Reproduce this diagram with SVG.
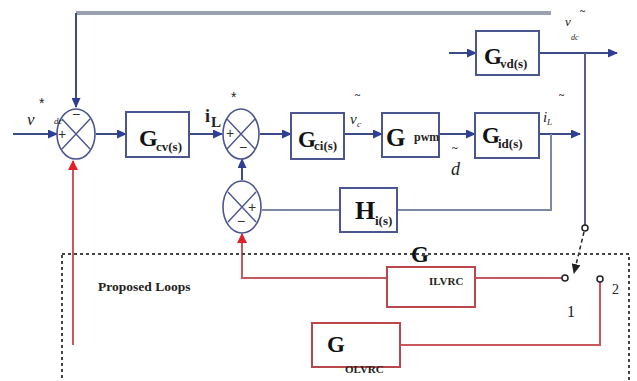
<svg xmlns="http://www.w3.org/2000/svg" width="637" height="381" viewBox="0 0 637 381">
<style>
.bl{stroke:#3d4a88;stroke-width:2;fill:none}
.fb{stroke:#8088a8;stroke-width:2;fill:none}
.rd{stroke:#c9575b;stroke-width:2;fill:none}
.box{fill:#fff;stroke:#4b5590;stroke-width:2}
.rbox{fill:#fff;stroke:#b9474b;stroke-width:2}
.sum{fill:#fff;stroke:#4b5590;stroke-width:1.6}
.x{stroke:#4b5590;stroke-width:1.4}
.G{font-family:"Liberation Serif",serif;font-weight:bold;fill:#111}
.s{font-family:"Liberation Serif",serif;font-weight:bold;fill:#222}
.it{font-family:"Liberation Serif",serif;font-style:italic;fill:#222}
.sg{font-family:"Liberation Sans",sans-serif;fill:#333;font-size:14px}
.st{font-family:"Liberation Sans",sans-serif;fill:#222;font-size:14px}
</style>
<defs>
<marker id="ab" markerWidth="10" markerHeight="9" refX="9" refY="4.5" orient="auto" markerUnits="userSpaceOnUse"><path d="M0,0 L10,4.5 L0,9 Z" fill="#2f3f96"/></marker>
<marker id="ar" markerWidth="10" markerHeight="10" refX="9" refY="5" orient="auto" markerUnits="userSpaceOnUse"><path d="M0,0 L10,5 L0,10 Z" fill="#e0202a"/></marker>
<marker id="ak" markerWidth="10" markerHeight="9" refX="9" refY="4.5" orient="auto" markerUnits="userSpaceOnUse"><path d="M0,0 L10,4.5 L0,9 Z" fill="#222"/></marker>
</defs>

<g id="connectors">
<path d="M76,13 L551,13" stroke="#9aa0ac" stroke-width="4" fill="none"/>
<path class="bl" d="M76,13 L76,107" marker-end="url(#ab)"/>
<path class="bl" d="M13,134 L57,134" marker-end="url(#ab)"/>
<path class="bl" d="M96,134 L126,134" marker-end="url(#ab)"/>
<path class="bl" d="M189,134 L222,134" marker-end="url(#ab)"/>
<path class="bl" d="M260,134 L291,134" marker-end="url(#ab)"/>
<path class="bl" d="M344,134 L382,134" marker-end="url(#ab)"/>
<path class="bl" d="M439,134 L475,134" marker-end="url(#ab)"/>
<path class="bl" d="M539,134 L580,134" marker-end="url(#ab)"/>
<path class="fb" d="M551,134 L551,210 L397,210"/>
<path class="fb" d="M340,210 L262,210"/>
<path class="bl" d="M242,180 L242,159" marker-end="url(#ab)"/>
<path class="bl" d="M449,53 L476,53" marker-end="url(#ab)"/>
<path class="bl" d="M539,53 L617,53" marker-end="url(#ab)"/>
<path d="M585,53 L585,225" stroke="#5a5f8a" stroke-width="2" fill="none"/>
<path d="M584,232 L574,273" stroke="#222" stroke-width="1.5" stroke-dasharray="4 3" fill="none" marker-end="url(#ak)"/>
<path class="rd" d="M73,345 L73,161" marker-end="url(#ar)"/>
<path class="rd" d="M387,278 L242,278 L242,234" marker-end="url(#ar)"/>
<path class="rd" d="M475,278 L562,278"/>
<path class="rd" d="M600,282 L600,345 L400,345"/>
<circle cx="585" cy="228" r="3" fill="#fff" stroke="#222" stroke-width="1.5"/>
<circle cx="565" cy="278" r="3" fill="#fff" stroke="#222" stroke-width="1.5"/>
<circle cx="600" cy="279" r="3" fill="#fff" stroke="#222" stroke-width="1.5"/>
</g>

<g id="proposed">
<rect x="62" y="254" width="567" height="140" fill="none" stroke="#444" stroke-width="2" stroke-dasharray="3 3"/>
<text x="98" y="291" class="s" font-size="13.5">Proposed Loops</text>
</g>

<g id="sum1">
<ellipse class="sum" cx="76" cy="134" rx="19" ry="25"/>
<path class="x" d="M62,119 L90,149 M90,119 L62,149"/>
<text x="72" y="119" class="sg">−</text>
<text x="58" y="139" class="sg">+</text>
</g>
<g id="sum2">
<ellipse class="sum" cx="241" cy="134" rx="18" ry="25"/>
<path class="x" d="M227,119 L255,149 M255,119 L227,149"/>
<text x="226" y="138" class="sg">+</text>
<text x="239" y="152" class="sg">−</text>
</g>
<g id="sum3">
<ellipse class="sum" cx="242" cy="207" rx="19" ry="26"/>
<path class="x" d="M228,192 L256,222 M256,192 L228,222"/>
<text x="248" y="212" class="sg">+</text>
<text x="237" y="226" class="sg">−</text>
</g>

<g id="Gcv">
<rect class="box" x="126" y="112" width="63" height="45"/>
<text x="139" y="146" class="G" font-size="24">G</text>
<text x="156" y="151" class="s" font-size="13">cv(s)</text>
</g>
<g id="Gci">
<rect class="box" x="291" y="113" width="53" height="46"/>
<text x="298" y="147" class="G" font-size="23">G</text>
<text x="314" y="150" class="s" font-size="13">ci(s)</text>
</g>
<g id="Gpwm">
<rect class="box" x="382" y="113" width="57" height="44"/>
<text x="386" y="146" class="G" font-size="25">G</text>
<text x="414" y="141" class="s" font-size="12">pwm</text>
</g>
<g id="Gid">
<rect class="box" x="475" y="113" width="64" height="45"/>
<text x="482" y="143" class="G" font-size="23">G</text>
<text x="498" y="148" class="s" font-size="13">id(s)</text>
</g>
<g id="Gvd">
<rect class="box" x="476" y="31" width="63" height="44"/>
<text x="484" y="64" class="G" font-size="23">G</text>
<text x="500" y="68" class="s" font-size="13">vd(s)</text>
</g>
<g id="Hi">
<rect class="box" x="340" y="188" width="57" height="44"/>
<text x="355" y="219" class="G" font-size="26">H</text>
<text x="375" y="225" class="s" font-size="13">i(s)</text>
</g>
<g id="GILVRC">
<rect class="rbox" x="387" y="267" width="88" height="40"/>
<text x="411" y="262" class="G" font-size="23">G</text>
<text x="429" y="285" class="s" font-size="11">ILVRC</text>
</g>
<g id="GOLVRC">
<rect class="rbox" x="312" y="323" width="88" height="44"/>
<text x="327" y="352" class="G" font-size="23">G</text>
<text x="345" y="373" class="s" font-size="11">OLVRC</text>
</g>

<g id="labels">
<text x="27" y="125" class="it" font-size="17">v</text>
<text x="39" y="108" class="st">*</text>
<text x="54" y="124" class="it" font-size="9">dc</text>
<text x="205" y="122" class="s" font-size="18" font-family="Liberation Sans">i</text>
<text x="211" y="127" class="s" font-size="15" font-family="Liberation Sans">L</text>
<text x="231" y="102" class="st">*</text>
<text x="350" y="124" class="it" font-size="15">v</text>
<text x="357" y="127" class="it" font-size="9">c</text>
<text x="355" y="98" class="s" font-size="10">~</text>
<text x="543" y="122" class="it" font-size="15">i</text>
<text x="547" y="125" class="it" font-size="9">L</text>
<text x="559" y="98" class="s" font-size="10">~</text>
<text x="452" y="151" class="s" font-size="11">~</text>
<text x="451" y="175" class="it" font-size="18">d</text>
<text x="565" y="26" class="it" font-size="13">v</text>
<text x="571" y="40" class="it" font-size="8">dc</text>
<text x="580" y="14" class="s" font-size="10">~</text>
<text x="567" y="317" font-family="Liberation Serif" font-size="16" fill="#222">1</text>
<text x="612" y="294" font-family="Liberation Serif" font-size="14" fill="#222">2</text>
</g>
</svg>
